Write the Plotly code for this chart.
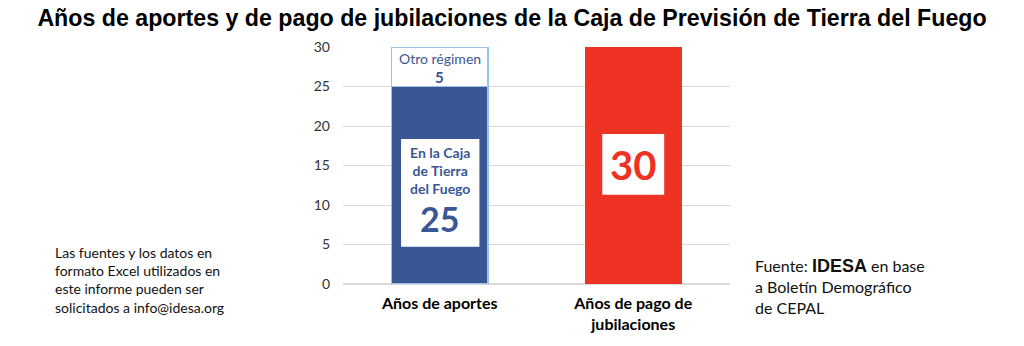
import plotly.graph_objects as go

categories = ["Años de aportes", "Años de pago de<br>jubilaciones"]
caja_tdf = [25, 0]
otro_regimen = [5, 0]
pago = [0, 30]
y_ticks = [0, 5, 10, 15, 20, 25, 30]

BLUE = "#3A5795"
LIGHT = "#9DC3E6"
RED = "#EE3224"
FONT = "Lato"

L, R, T, B = 343, 294, 47, 62
PW = 1024 - L - R
PH = 346 - T - B


def px(x):
    return (x - L) / PW


def py(y):
    return (346 - B - y) / PH


fig = go.Figure()
fig.add_trace(go.Bar(x=[0, 1], y=caja_tdf, marker=dict(color=BLUE, line=dict(color=LIGHT, width=1.5)), width=0.5))
fig.add_trace(go.Bar(x=[0, 1], y=otro_regimen, marker=dict(color="white", line=dict(color=LIGHT, width=1.5)), width=0.5))
fig.add_trace(go.Bar(x=[0, 1], y=pago, marker=dict(color=RED, line=dict(width=0)), width=0.5))

fig.update_layout(
    barmode="stack",
    width=1024, height=346,
    margin=dict(l=L, r=R, t=T, b=B),
    plot_bgcolor="white", paper_bgcolor="white",
    showlegend=False,
    font=dict(family=FONT, color="#222"),
    title=dict(text="<b>Años de aportes y de pago de jubilaciones de la Caja de Previsión de Tierra del Fuego</b>",
               x=0.5, xanchor="center", y=1 - 18 / 346, yanchor="middle", yref="container",
               font=dict(family="Liberation Sans", size=23.2, color="black")),
)
fig.update_yaxes(range=[0, 30], tickvals=y_ticks, showgrid=True, gridcolor="#D9D9D9", gridwidth=1,
                 zeroline=True, zerolinecolor="#D9D9D9", showline=False,
                 tickfont=dict(size=14, color="#333"), ticks="", ticklabelstandoff=12)
fig.update_xaxes(range=[-0.5, 1.5], showline=False, ticks="", showgrid=False,
                 tickvals=[0, 1], ticktext=["<b>" + c + "</b>" for c in categories],
                 tickfont=dict(size=16, color="black", family=FONT), ticklabelstandoff=8)

# white boxes
fig.add_shape(type="rect", xref="x", yref="y", x0=-0.2, x1=0.205, y0=4.7, y1=18.35,
              fillcolor="white", line=dict(width=0), layer="above")
fig.add_shape(type="rect", xref="x", yref="y", x0=0.84, x1=1.16, y0=11.3, y1=19.0,
              fillcolor="white", line=dict(width=0), layer="above")

fig.add_annotation(x=0, y=14.4, xref="x", yref="y", text="<b>En la Caja<br>de Tierra<br>del Fuego</b>",
                   showarrow=False, font=dict(size=14, color=BLUE, family=FONT), yanchor="middle")
fig.add_annotation(x=0, y=8.3, xref="x", yref="y", text="<b>%d</b>" % caja_tdf[0],
                   showarrow=False, font=dict(size=34, color=BLUE, family=FONT))
fig.add_annotation(x=0, y=28.6, xref="x", yref="y", text="Otro régimen",
                   showarrow=False, font=dict(size=14, color=BLUE, family=FONT))
fig.add_annotation(x=0, y=26.2, xref="x", yref="y", text="<b>%d</b>" % otro_regimen[0],
                   showarrow=False, font=dict(size=15, color=BLUE, family=FONT))
fig.add_annotation(x=1, y=15.1, xref="x", yref="y", text="<b>%d</b>" % pago[1],
                   showarrow=False, font=dict(size=40, color=RED, family=FONT))

fig.add_annotation(x=px(53), y=py(280), xref="paper", yref="paper", xanchor="left", yanchor="middle",
                   text="Las fuentes y los datos en<br>formato Excel utilizados en<br>este informe pueden ser<br>solicitados a info@idesa.org",
                   align="left", showarrow=False, font=dict(size=14, color="#111", family=FONT))
fig.add_annotation(x=px(753), y=py(286), xref="paper", yref="paper", xanchor="left", yanchor="middle",
                   text="Fuente: <b><span style='font-family:Liberation Sans;font-size:18px'>IDESA</span></b> en base<br>a Boletín Demográfico<br>de CEPAL",
                   align="left", showarrow=False, font=dict(size=16, color="#111", family=FONT))

fig.write_html("out.html")
